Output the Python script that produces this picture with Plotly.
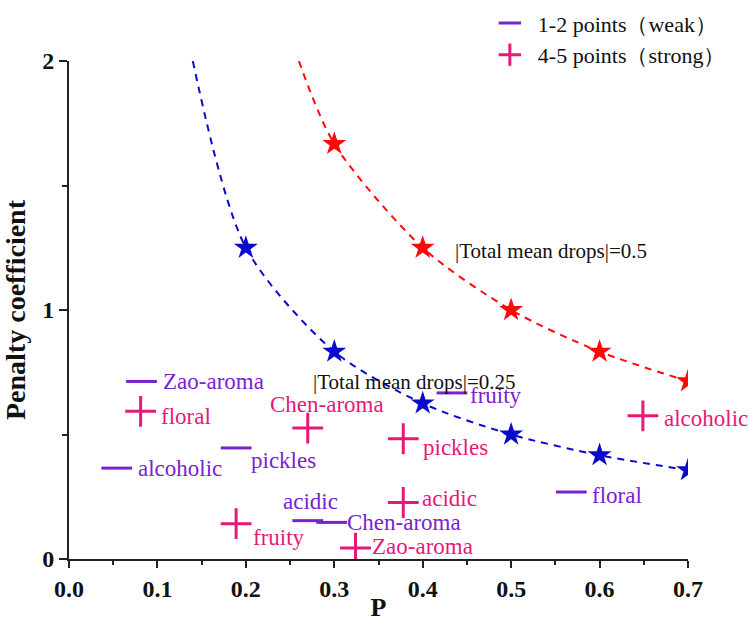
import plotly.graph_objects as go

# ---- data ----
weak_names = ["Zao-aroma", "alcoholic", "pickles", "acidic", "Chen-aroma", "fruity", "floral"]
weak_p = [0.082, 0.054, 0.189, 0.270, 0.297, 0.433, 0.568]
weak_pen = [0.713, 0.365, 0.446, 0.154, 0.147, 0.667, 0.269]

strong_names = ["floral", "Chen-aroma", "fruity", "Zao-aroma", "pickles", "acidic", "alcoholic"]
strong_p = [0.081, 0.270, 0.189, 0.324, 0.378, 0.378, 0.649]
strong_pen = [0.593, 0.526, 0.142, 0.044, 0.483, 0.227, 0.575]

# iso-curves |Total mean drops| = 0.25 and 0.5
blue_star_p = [0.2, 0.3, 0.4, 0.5, 0.6, 0.7]
blue_star_pen = [1.25, 0.833, 0.625, 0.5, 0.417, 0.357]
blue_curve_p = [0.14, 0.2, 0.3, 0.4, 0.5, 0.6, 0.7]
blue_curve_pen = [2.0, 1.25, 0.833, 0.625, 0.5, 0.417, 0.357]

red_star_p = [0.3, 0.4, 0.5, 0.6, 0.7]
red_star_pen = [1.667, 1.25, 1.0, 0.833, 0.714]
red_curve_p = [0.26, 0.3, 0.4, 0.5, 0.6, 0.7]
red_curve_pen = [2.0, 1.667, 1.25, 1.0, 0.833, 0.714]

x_ticks = [0.0, 0.1, 0.2, 0.3, 0.4, 0.5, 0.6, 0.7]
x_ticklabels = ["0.0", "0.1", "0.2", "0.3", "0.4", "0.5", "0.6", "0.7"]
y_ticks = [0, 1, 2]
y_ticklabels = ["0", "1", "2"]

# ---- styles ----
PURPLE = "#7A22D0"
PINK = "#E8187A"
BLUE = "#0A0ACD"
RED = "#FF0A0A"
SERIF = "Liberation Serif, Times New Roman, serif"

# label pixel offsets (xshift, yshift, xanchor)
weak_off = [(19, 0, "left"), (19, 0, "left"), (13, -13, "left"), (3, 19, "center"),
            (13, 0, "left"), (16, -3, "left"), (19, -3, "left")]
strong_off = [(18, -5, "left"), (19, 24, "center"), (15, -14, "left"), (14, 2, "left"),
              (18, -9, "left"), (17, 4, "left"), (19, -3, "left")]

fig = go.Figure()

fig.add_trace(go.Scatter(x=blue_curve_p, y=blue_curve_pen, mode="lines",
                         line=dict(color=BLUE, width=2, dash="7px,6px", shape="spline", smoothing=0.8),
                         showlegend=False, hoverinfo="skip"))
fig.add_trace(go.Scatter(x=red_curve_p, y=red_curve_pen, mode="lines",
                         line=dict(color=RED, width=2, dash="7px,6px", shape="spline", smoothing=0.8),
                         showlegend=False, hoverinfo="skip"))
fig.add_trace(go.Scatter(x=blue_star_p, y=blue_star_pen, mode="markers",
                         marker=dict(symbol="star", size=18, color=BLUE, line=dict(width=0)),
                         showlegend=False))
fig.add_trace(go.Scatter(x=red_star_p, y=red_star_pen, mode="markers",
                         marker=dict(symbol="star", size=18, color=RED, line=dict(width=0)),
                         showlegend=False))

fig.add_trace(go.Scatter(x=weak_p, y=weak_pen, mode="markers", name="1-2 points（weak）",
                         text=weak_names,
                         marker=dict(symbol="line-ew", size=22, color=PURPLE,
                                     line=dict(color=PURPLE, width=3))))
fig.add_trace(go.Scatter(x=strong_p, y=strong_pen, mode="markers", name="4-5 points（strong）",
                         text=strong_names,
                         marker=dict(symbol="cross-thin", size=22, color=PINK,
                                     line=dict(color=PINK, width=3))))

annotations = []
for name, px, py, (dx, dy, xa) in zip(weak_names, weak_p, weak_pen, weak_off):
    annotations.append(dict(x=px, y=py, xref="x", yref="y", text=name, showarrow=False,
                            xanchor=xa, yanchor="middle", xshift=dx, yshift=dy,
                            font=dict(family=SERIF, size=23, color=PURPLE)))
for name, px, py, (dx, dy, xa) in zip(strong_names, strong_p, strong_pen, strong_off):
    annotations.append(dict(x=px, y=py, xref="x", yref="y", text=name, showarrow=False,
                            xanchor=xa, yanchor="middle", xshift=dx, yshift=dy,
                            font=dict(family=SERIF, size=23, color=PINK)))

annotations.append(dict(x=0.434, y=1.235, xref="x", yref="y", text="|Total mean drops|=0.5",
                        showarrow=False, xanchor="left", yanchor="middle",
                        font=dict(family=SERIF, size=21, color="#111111")))
annotations.append(dict(x=0.274, y=0.709, xref="x", yref="y", text="|Total mean drops|=0.25",
                        showarrow=False, xanchor="left", yanchor="middle",
                        font=dict(family=SERIF, size=21, color="#111111")))

fig.update_layout(
    width=749, height=622,
    margin=dict(l=69, r=61, t=61, b=63, autoexpand=False),
    paper_bgcolor="white", plot_bgcolor="white",
    annotations=annotations,
    showlegend=True,
    legend=dict(x=0.667, y=1.118, xanchor="left", yanchor="top",
                font=dict(family=SERIF, size=22, color="#111111"),
                bgcolor="rgba(0,0,0,0)", itemwidth=46, tracegroupgap=0),
    xaxis=dict(range=[0, 0.7], tickvals=x_ticks, ticktext=x_ticklabels,
               showgrid=False, zeroline=False, showline=True, linecolor="#222222", linewidth=2,
               ticks="outside", ticklen=7, tickwidth=2, tickcolor="#222222",
               minor=dict(ticks="outside", ticklen=4, tickwidth=2, tickcolor="#222222", dtick=0.05),
               tickfont=dict(family=SERIF, size=24, color="#111111", weight="bold"),
               title=dict(text="P", standoff=0,
                          font=dict(family=SERIF, size=26, color="#111111", weight="bold")),
               automargin=False),
    yaxis=dict(range=[0, 2], tickvals=y_ticks, ticktext=y_ticklabels,
               showgrid=False, zeroline=False, showline=True, linecolor="#222222", linewidth=2,
               ticks="outside", ticklen=8, tickwidth=2, tickcolor="#222222",
               minor=dict(ticks="outside", ticklen=5, tickwidth=2, tickcolor="#222222", dtick=0.5),
               tickfont=dict(family=SERIF, size=24, color="#111111", weight="bold"),
               title=dict(text="Penalty coefficient", standoff=10,
                          font=dict(family=SERIF, size=28, color="#111111", weight="bold")),
               automargin=False),
)

fig.write_html("out.html", config={"displayModeBar": False},
               post_script="document.body.style.margin='0';document.body.style.overflow='hidden';")
